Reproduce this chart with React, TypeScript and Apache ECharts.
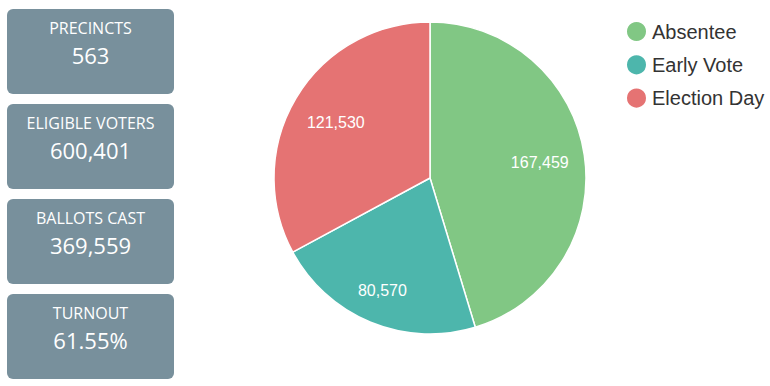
import React, { useEffect, useRef } from "react";
import * as echarts from "echarts";

const categories = ["Absentee", "Early Vote", "Election Day"];
const votes = [167459, 80570, 121530];
const sliceColors = ["#81c784", "#4db6ac", "#e57373"];
const statTitles = ["PRECINCTS", "ELIGIBLE VOTERS", "BALLOTS CAST", "TURNOUT"];
const statValues = ["563", "600,401", "369,559", "61.55%"];

export default function App() {
  const ref = useRef<HTMLDivElement>(null);
  useEffect(() => {
    document.body.style.margin = "0";
    const chart = echarts.init(ref.current!, null, { renderer: "svg" });
    const boxX = 7;
    const boxW = 167;
    const boxH = 85;
    const boxStep = 95;
    const boxTop = 9;
    const graphics: any[] = [];
    statTitles.forEach((t, i) => {
      const y0 = boxTop + i * boxStep;
      graphics.push({
        type: "rect",
        shape: { x: boxX, y: y0, width: boxW, height: boxH, r: 6 },
        style: { fill: "#78909c" },
        silent: true,
      });
      graphics.push({
        type: "text",
        x: boxX + boxW / 2,
        y: y0 + 19,
        style: {
          text: t,
          fill: "#ffffff",
          font: "16px 'Open Sans'",
          align: "center",
          verticalAlign: "middle",
        },
        silent: true,
      });
      graphics.push({
        type: "text",
        x: boxX + boxW / 2,
        y: y0 + 45.5,
        style: {
          text: statValues[i],
          fill: "#ffffff",
          font: "22px 'Open Sans'",
          align: "center",
          verticalAlign: "middle",
        },
        silent: true,
      });
    });

    const mainData = categories.map((name, i) => ({
      name,
      value: votes[i],
      itemStyle: { color: sliceColors[i] },
    }));
    const labelOffsets: [number, number][] = [
      [-1, 1],
      [-5, 9],
      [2, 2],
    ];
    const labelData = categories.map((name, i) => ({
      name,
      value: votes[i],
      label: { offset: labelOffsets[i] },
    }));

    chart.setOption({
      animation: false,
      legend: {
        data: categories,
        orient: "vertical",
        left: 620,
        top: 15,
        icon: "circle",
        itemWidth: 21,
        itemHeight: 21,
        itemGap: 10.3,
        itemTextGap: 8,
        textStyle: {
          fontFamily: "'Liberation Sans', Arial, sans-serif",
          fontSize: 20,
          color: "#333333",
        },
      },
      graphic: graphics,
      series: [
        {
          type: "pie",
          center: [430, 178],
          radius: [0, 156],
          startAngle: 90,
          clockwise: true,
          avoidLabelOverlap: false,
          label: { show: false },
          labelLine: { show: false },
          itemStyle: { borderColor: "#ffffff", borderWidth: 1.5 },
          emphasis: { disabled: true },
          data: mainData,
        },
        {
          type: "pie",
          center: [430, 178],
          radius: [62, 156],
          startAngle: 90,
          clockwise: true,
          silent: true,
          avoidLabelOverlap: false,
          itemStyle: { color: "rgba(0,0,0,0)", borderWidth: 0 },
          label: {
            show: true,
            position: "inside",
            color: "#ffffff",
            fontFamily: "'Liberation Sans', Arial, sans-serif",
            fontSize: 16,
            formatter: (p: any) => Number(p.value).toLocaleString("en-US"),
          },
          labelLine: { show: false },
          emphasis: { disabled: true },
          data: labelData,
        },
      ],
    });
    return () => chart.dispose();
  }, []);
  return <div ref={ref} style={{ width: 770, height: 386 }} />;
}
